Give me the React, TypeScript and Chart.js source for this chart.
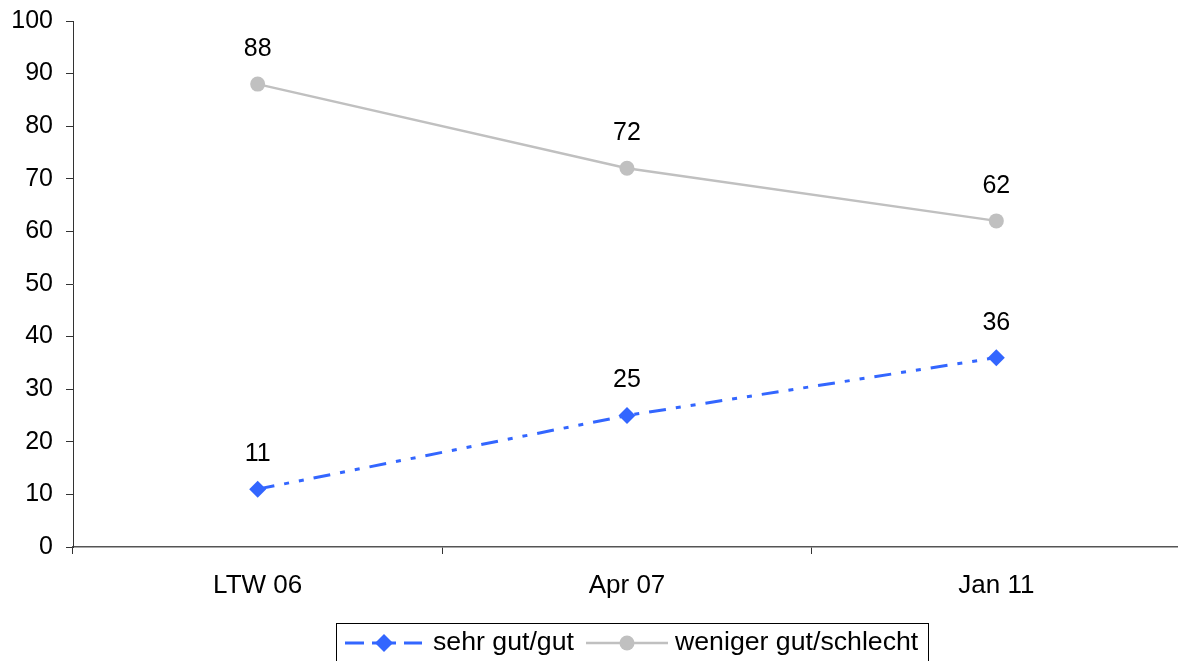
import React, { useEffect, useRef } from "react";
import { Chart, registerables } from "chart.js";

Chart.register(...registerables);

const categories = ["LTW 06", "Apr 07", "Jan 11"];
const seriesGood = [11, 25, 36];
const seriesBad = [88, 72, 62];
const seriesNames = ["sehr gut/gut", "weniger gut/schlecht"];
const yTicks = [0, 10, 20, 30, 40, 50, 60, 70, 80, 90, 100];

const BLUE = "#3366FF";
const GRAY = "#C0C0C0";
const FONT = "'Liberation Sans', Arial, sans-serif";

const labelPlugin = {
  id: "valueLabels",
  afterDatasetsDraw(chart: any) {
    const ctx = chart.ctx;
    ctx.save();
    ctx.font = `25px ${FONT}`;
    ctx.fillStyle = "#000";
    ctx.textAlign = "center";
    ctx.textBaseline = "middle";
    chart.data.datasets.forEach((ds: any, i: number) => {
      const meta = chart.getDatasetMeta(i);
      meta.data.forEach((pt: any, j: number) => {
        ctx.fillText(String(ds.data[j]), pt.x, pt.y - 35);
      });
    });
    ctx.restore();
  },
};

const legendPlugin = {
  id: "boxLegend",
  afterDraw(chart: any) {
    const ctx = chart.ctx;
    ctx.save();
    const bx = 336.5, by = 623.5, bw = 592, bh = 42;
    ctx.fillStyle = "#fff";
    ctx.fillRect(bx, by, bw, bh);
    ctx.strokeStyle = "#000";
    ctx.lineWidth = 1;
    ctx.strokeRect(bx, by, bw, bh);
    const cy = 643;
    // blue item
    ctx.strokeStyle = BLUE;
    ctx.lineWidth = 3;
    ctx.beginPath();
    ctx.moveTo(345, cy); ctx.lineTo(364, cy);
    ctx.moveTo(372, cy); ctx.lineTo(396, cy);
    ctx.moveTo(404, cy); ctx.lineTo(422, cy);
    ctx.stroke();
    ctx.fillStyle = BLUE;
    ctx.beginPath();
    ctx.moveTo(384, cy - 9); ctx.lineTo(393, cy); ctx.lineTo(384, cy + 9); ctx.lineTo(375, cy);
    ctx.closePath();
    ctx.fill();
    ctx.font = `26.7px ${FONT}`;
    ctx.fillStyle = "#000";
    ctx.textBaseline = "middle";
    ctx.textAlign = "left";
    ctx.fillText(seriesNames[0], 433, cy);
    // gray item
    ctx.strokeStyle = GRAY;
    ctx.lineWidth = 2.5;
    ctx.beginPath();
    ctx.moveTo(586, cy); ctx.lineTo(668, cy);
    ctx.stroke();
    ctx.fillStyle = GRAY;
    ctx.beginPath();
    ctx.arc(627, cy, 7.5, 0, Math.PI * 2);
    ctx.fill();
    ctx.fillStyle = "#000";
    ctx.fillText(seriesNames[1], 675, cy);
    ctx.restore();
  },
};

export default function App() {
  const ref = useRef<HTMLCanvasElement>(null);
  useEffect(() => {
    if (!ref.current) return;
    const chart = new Chart(ref.current, {
      type: "line",
      data: {
        labels: categories,
        datasets: [
          {
            label: seriesNames[0],
            data: seriesGood,
            borderColor: BLUE,
            backgroundColor: BLUE,
            borderWidth: 3,
            borderDash: [17, 10, 5, 10, 5, 10],
            pointStyle: "rectRot",
            pointRadius: 8.5,
            pointBorderWidth: 0,
            tension: 0,
          },
          {
            label: seriesNames[1],
            data: seriesBad,
            borderColor: GRAY,
            backgroundColor: GRAY,
            borderWidth: 2.5,
            pointStyle: "circle",
            pointRadius: 7.5,
            pointBorderWidth: 0,
            tension: 0,
          },
        ],
      },
      options: {
        animation: false,
        responsive: false,
        maintainAspectRatio: false,
        layout: { autoPadding: false, padding: { top: 21, right: 0, left: 0, bottom: 0 } },
        plugins: { legend: { display: false }, tooltip: { enabled: false } },
        scales: {
          x: {
            type: "category",
            offset: true,
            grid: { offset: true, drawOnChartArea: false, drawTicks: true, tickLength: 7, color: "#333" },
            border: { color: "#555", width: 1.5 },
            ticks: { font: { size: 26, family: FONT }, color: "#000", padding: 16 },
            afterFit: (s: any) => { s.height = 114; s.paddingLeft = 0; s.paddingRight = 0; },
          },
          y: {
            min: 0,
            max: 100,
            afterBuildTicks: (s: any) => { s.ticks = yTicks.map((v) => ({ value: v })); },
            grid: { drawOnChartArea: false, drawTicks: true, tickLength: 7, color: "#333" },
            border: { color: "#333", width: 1 },
            ticks: { font: { size: 25, family: FONT }, color: "#000", padding: 13 },
            afterFit: (s: any) => { s.width = 73; s.paddingTop = 0; s.paddingBottom = 0; },
          },
        },
      },
      plugins: [labelPlugin, legendPlugin],
    });
    return () => chart.destroy();
  }, []);
  return (
    <div style={{ position: "absolute", left: 0, top: 0, width: 1178, height: 661, overflow: "hidden", background: "#fff" }}>
      <canvas ref={ref} width={1181} height={661} style={{ display: "block" }} />
    </div>
  );
}
